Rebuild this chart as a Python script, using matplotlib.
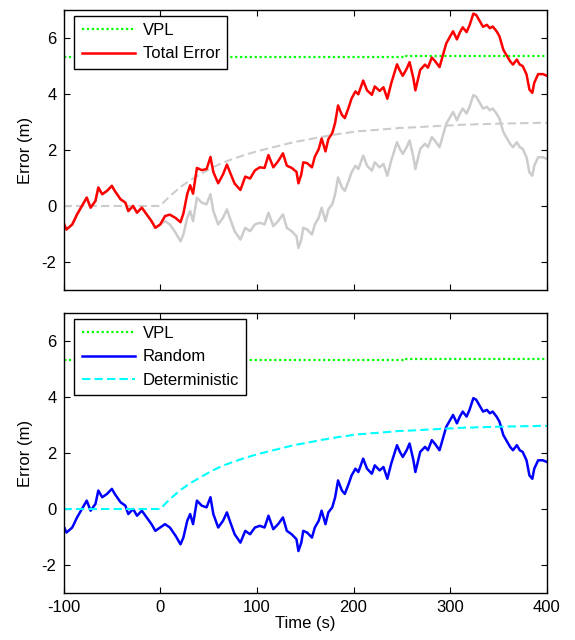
import numpy as np
import matplotlib
matplotlib.use('Agg')
from matplotlib import pyplot as plt

plt.rcParams['font.family'] = ['Liberation Sans', 'DejaVu Sans']
plt.rcParams['font.size'] = 12
plt.rcParams['axes.unicode_minus'] = False

# time stamps (s)
time = [-100, -97, -91, -86, -81, -76, -72, -67, -64, -60, -55, -50, -47, -41, -36, -33,
        -28, -24, -19, -14, -9, -5, 0, 5, 10, 16, 21, 24, 28, 31, 34, 38, 43, 48, 52, 55,
        60, 65, 69, 72, 77, 83, 88, 93, 98, 103, 108, 112, 117, 122, 127, 131, 136, 141,
        143, 146, 148, 152, 157, 160, 164, 167, 171, 174, 178, 181, 184, 188, 191, 195,
        198, 202, 205, 210, 214, 219, 222, 227, 231, 235, 239, 245, 248, 251, 255, 258,
        262, 264, 269, 274, 277, 281, 284, 289, 293, 296, 300, 303, 307, 310, 313, 317,
        320, 324, 327, 331, 334, 338, 341, 344, 348, 351, 355, 358, 362, 365, 369, 372,
        375, 379, 382, 385, 387, 391, 396, 400]

random_err = [-0.6, -0.84, -0.66, -0.3, 0.0, 0.3, -0.06, 0.18, 0.66, 0.42, 0.54, 0.72, 0.54,
              0.24, 0.12, -0.18, 0.0, -0.24, -0.06, -0.3, -0.54, -0.78, -0.66, -0.54, -0.66,
              -0.96, -1.26, -1.02, -0.42, -0.18, -0.54, 0.3, 0.12, 0.06, 0.42, -0.18, -0.66,
              -0.42, -0.12, -0.42, -0.9, -1.2, -0.78, -0.9, -0.66, -0.6, -0.66, -0.24, -0.72,
              -0.54, -0.3, -0.78, -0.9, -1.08, -1.5, -1.2, -0.78, -0.84, -1.02, -0.66, -0.42,
              -0.06, -0.54, -0.12, 0.06, 0.42, 1.02, 0.66, 0.54, 0.9, 1.2, 1.44, 1.32, 1.8,
              1.44, 1.26, 1.56, 1.38, 1.5, 1.08, 1.62, 2.28, 2.04, 1.86, 2.1, 2.34, 1.74, 1.32,
              2.04, 2.22, 2.1, 2.46, 2.34, 2.1, 2.58, 2.94, 3.18, 3.36, 3.06, 3.3, 3.48, 3.3,
              3.54, 3.96, 3.9, 3.66, 3.48, 3.54, 3.42, 3.48, 3.3, 3.12, 2.64, 2.46, 2.22, 2.1,
              2.28, 2.1, 2.04, 1.74, 1.2, 1.08, 1.44, 1.74, 1.74, 1.68]

determ_err = [0, 0, 0, 0, 0, 0, 0, 0, 0, 0, 0, 0, 0, 0, 0, 0, 0, 0, 0, 0, 0, 0, 0,
              0.18, 0.35, 0.53, 0.68, 0.75, 0.85, 0.92, 0.98, 1.06, 1.16, 1.26, 1.33, 1.39,
              1.47, 1.55, 1.6, 1.64, 1.7, 1.77, 1.83, 1.88, 1.93, 1.98, 2.02, 2.06, 2.1, 2.14,
              2.18, 2.22, 2.26, 2.3, 2.31, 2.33, 2.34, 2.37, 2.4, 2.42, 2.45, 2.47, 2.49, 2.51,
              2.54, 2.55, 2.57, 2.59, 2.6, 2.62, 2.64, 2.65, 2.67, 2.68, 2.69, 2.71, 2.71,
              2.73, 2.74, 2.75, 2.76, 2.78, 2.79, 2.79, 2.8, 2.8, 2.81, 2.81, 2.82, 2.83,
              2.84, 2.84, 2.85, 2.86, 2.87, 2.87, 2.88, 2.88, 2.89, 2.9, 2.9, 2.91, 2.91,
              2.91, 2.92, 2.92, 2.92, 2.93, 2.93, 2.93, 2.94, 2.94, 2.94, 2.94, 2.95, 2.95,
              2.95, 2.95, 2.96, 2.96, 2.96, 2.96, 2.96, 2.97, 2.97, 2.97]

# VPL level, steps up around t = 253 s
vpl_time = [-100, 253, 253, 400]
vpl_val = [5.31, 5.31, 5.37, 5.37]

total_err = np.array(random_err) + np.array(determ_err)


def style_axis(ax):
    ax.set_xlim(-100, 400)
    ax.set_ylim(-3, 7)
    ax.set_xticks([-100, 0, 100, 200, 300, 400])
    ax.set_yticks([-2, 0, 2, 4, 6])
    ax.tick_params(direction='in', top=True, right=True, length=4, width=0.8, pad=5)
    for sp in ax.spines.values():
        sp.set_linewidth(1.0)
    ax.set_ylabel('Error (m)', labelpad=6)


def add_legend(ax):
    leg = ax.legend(loc='upper left', fancybox=False, framealpha=1, edgecolor='black',
                    handlelength=3.2, handletextpad=0.45, borderpad=0.45, labelspacing=0.5,
                    bbox_to_anchor=(0.022, 0.98), borderaxespad=0)
    leg.get_frame().set_linewidth(1.0)


fig = plt.figure(figsize=(5.75, 6.4), dpi=100)
ax1 = fig.add_axes([0.1105, 0.5469, 0.8405, 0.4375])
ax2 = fig.add_axes([0.1105, 0.0734, 0.8405, 0.4375])

# top: total error
ax1.plot(time, random_err, color='#cccccc', lw=1.8)
ax1.plot(time, determ_err, color='#cccccc', lw=1.5, dashes=(4, 2))
ax1.plot(vpl_time, vpl_val, color='#00ff00', lw=1.6, dashes=(1, 1.2), label='VPL')
ax1.plot(time, total_err, color='#ff0000', lw=1.8, label='Total Error')
style_axis(ax1)
ax1.set_xticklabels([])
add_legend(ax1)

# bottom: components
ax2.plot(vpl_time, vpl_val, color='#00ff00', lw=1.6, dashes=(1, 1.2), label='VPL')
ax2.plot(time, random_err, color='#0000ff', lw=1.8, label='Random')
ax2.plot(time, determ_err, color='#00ffff', lw=1.5, dashes=(4, 2), label='Deterministic')
style_axis(ax2)
ax2.set_xlabel('Time (s)', labelpad=1)
add_legend(ax2)

fig.savefig('out.png', dpi=100)
